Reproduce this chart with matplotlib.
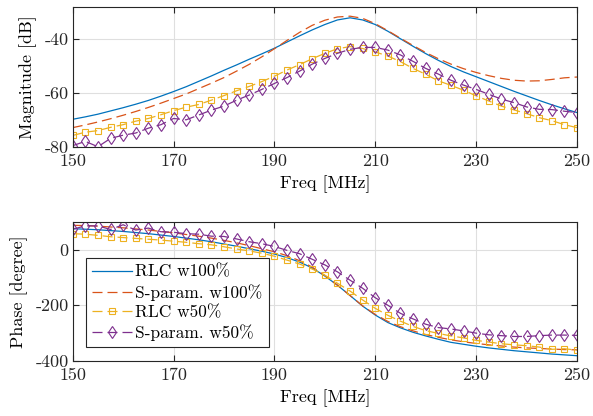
import numpy as np
import matplotlib
matplotlib.use("Agg")
import matplotlib.pyplot as plt

plt.rcParams['font.family'] = 'serif'
plt.rcParams['font.serif'] = ['cmr10', 'DejaVu Serif']
plt.rcParams['axes.unicode_minus'] = False
plt.rcParams['font.size'] = 13

# frequency sweep [MHz]
freq = np.arange(150, 250.01, 2.5)

# magnitude [dB]
mag_rlc_100 = [-69.7, -68.8, -67.8, -66.6, -65.4, -64.1, -62.7, -61.1, -59.4, -57.6,
               -55.6, -53.6, -51.5, -49.5, -47.4, -45.4, -43.3, -41.0, -38.7, -36.5,
               -34.5, -32.8, -32.0, -32.8, -34.5, -37.0, -39.8, -42.6, -45.3, -47.8,
               -50.1, -52.1, -53.9, -55.7, -57.5, -59.3, -61.0, -62.7, -64.3, -65.8, -67.2]
mag_sp_100 = [-72.8, -71.8, -70.7, -69.5, -68.2, -66.8, -65.3, -63.7, -62.0, -60.3,
              -58.3, -56.3, -54.2, -51.8, -49.3, -46.5, -43.5, -40.4, -37.4, -34.8,
              -32.9, -31.7, -31.4, -32.2, -34.2, -36.8, -39.6, -42.3, -44.9, -47.2,
              -49.2, -50.9, -52.3, -53.5, -54.5, -55.2, -55.5, -55.4, -54.9, -54.3, -54.0]
mag_rlc_50 = [-75.7, -74.5, -73.9, -72.7, -71.7, -70.4, -69.4, -68.0, -66.5, -65.2,
              -64.2, -62.6, -60.9, -59.1, -57.5, -55.7, -53.7, -51.4, -49.4, -47.2,
              -45.2, -43.5, -42.7, -43.4, -44.7, -46.2, -48.3, -50.8, -53.0, -55.4,
              -57.1, -58.9, -61.0, -62.9, -64.8, -66.2, -67.6, -69.1, -70.2, -71.7, -72.8]
mag_sp_50 = [-79.5, -77.9, -79.9, -76.8, -75.6, -74.8, -73.0, -71.7, -69.4, -69.9,
             -68.1, -66.3, -64.8, -62.6, -60.7, -58.6, -56.4, -54.2, -51.8, -49.2,
             -47.1, -45.2, -43.7, -43.0, -43.0, -44.0, -45.8, -48.2, -50.8, -52.9,
             -55.2, -57.0, -58.6, -60.4, -62.2, -63.5, -65.1, -66.0, -66.1, -66.7, -67.2]

# phase [degree]
ph_rlc_100 = [75, 73, 71, 68, 65, 61, 57, 52, 47, 41,
              35, 28, 20, 12, 3, -6, -16, -29, -45, -66,
              -95, -128, -165, -203, -235, -262, -281, -297, -310, -322,
              -333, -340, -347, -353, -358, -363, -367, -371, -375, -378, -381]
ph_sp_100 = [87, 86, 84, 81, 78, 74, 70, 65, 60, 54,
             48, 41, 33, 24, 14, 3, -8, -22, -40, -63,
             -93, -128, -165, -202, -233, -258, -277, -292, -305, -315,
             -324, -331, -337, -342, -346, -350, -353, -355, -357, -359, -360]
ph_rlc_50 = [57, 55, 51, 46, 43, 40, 37, 34, 30, 26,
             21, 17, 10, 2, -5, -13, -24, -38, -52, -70,
             -92, -121, -149, -181, -211, -236, -257, -276, -291, -301,
             -310, -317, -326, -332, -338, -342, -345, -350, -358, -356, -361]
ph_sp_50 = [73, 85, 85, 72, 89, 70, 77, 64, 62, 57,
            55, 48, 47, 38, 28, 21, 11, -3, -15, -35,
            -55, -80, -110, -139, -173, -200, -229, -249, -268, -280,
            -285, -292, -300, -306, -309, -312, -312, -309, -307, -307, -308]

labels = ['RLC w100%', 'S-param. w100%', 'RLC w50%', 'S-param. w50%']
colors = ['#0072BD', '#D95319', '#EDB120', '#7E2F8E']

fig = plt.figure(figsize=(5.93, 4.16), dpi=100)
ax1 = fig.add_axes([0.1226, 0.6466, 0.8504, 0.3365])
ax2 = fig.add_axes([0.1226, 0.1322, 0.8504, 0.3349])

def draw(ax, a, b, c, d):
    ax.plot(freq, a, '-', color=colors[0], lw=0.9, label=labels[0])
    ax.plot(freq, b, color=colors[1], lw=0.9, dashes=(8, 4), label=labels[1])
    ax.plot(freq, c, color=colors[2], lw=0.9, dashes=(8, 4), marker='s', ms=5,
            mfc='none', mew=0.8, label=labels[2])
    ax.plot(freq, d, color=colors[3], lw=0.9, dashes=(8, 4), marker='d', ms=6,
            mfc='none', mew=0.8, label=labels[3])
    ax.set_xlim(150, 250)
    ax.set_xticks([150, 170, 190, 210, 230, 250])
    ax.set_xlabel('Freq [MHz]', labelpad=4)
    ax.grid(True, color='#dfdfdf', lw=0.8)
    ax.set_axisbelow(True)
    ax.tick_params(direction='in', top=True, right=True, length=4, width=0.8,
                   colors='#262626', labelcolor='#262626')
    ax.tick_params(axis='x', pad=5)
    ax.tick_params(axis='y', pad=3)
    for s in ax.spines.values():
        s.set_color('#262626')
        s.set_linewidth(0.8)

draw(ax1, mag_rlc_100, mag_sp_100, mag_rlc_50, mag_sp_50)
ax1.set_ylim(-80, -28)
ax1.set_yticks([-80, -60, -40])
ax1.set_ylabel('Magnitude [dB]', labelpad=5)

draw(ax2, ph_rlc_100, ph_sp_100, ph_rlc_50, ph_sp_50)
ax2.set_ylim(-400, 100)
ax2.set_yticks([-400, -200, 0])
ax2.set_ylabel('Phase [degree]', labelpad=5)

leg = ax2.legend(loc='lower left', bbox_to_anchor=(0.026, 0.10), numpoints=1,
                 fontsize=12.5, handlelength=2.3, handletextpad=0.2,
                 labelspacing=0.24, borderpad=0.35, borderaxespad=0,
                 fancybox=False, edgecolor='#262626', framealpha=1)
leg.get_frame().set_linewidth(0.8)

fig.savefig('out.png', dpi=100)
